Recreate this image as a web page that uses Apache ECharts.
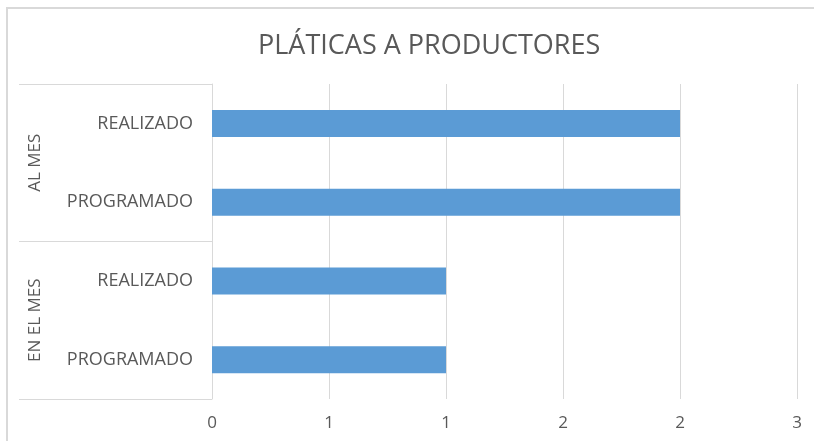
<!DOCTYPE html>
<html>
<head>
<meta charset="utf-8">
<script src="https://cdn.jsdelivr.net/npm/echarts@6/dist/echarts.min.js"></script>
<style>
html,body{margin:0;padding:0;background:#fff;}
#main{width:814px;height:441px;}
</style>
</head>
<body>
<div id="main"></div>
<script>
// Data (bottom to top)
const categories = ['PROGRAMADO', 'REALIZADO', 'PROGRAMADO', 'REALIZADO'];
const groups = ['EN EL MES', 'AL MES'];
const values = [1, 1, 2, 2];
const tickLabels = ['0', '1', '1', '2', '2', '3'];
const titleText = 'PLÁTICAS A PRODUCTORES';

const chart = echarts.init(document.getElementById('main'));
const textColor = '#595959';
const lineColor = '#d9d9d9';
const font = '"Open Sans", "Noto Sans", sans-serif';

chart.setOption({
  animation: false,
  backgroundColor: '#fff',
  title: {
    text: titleText,
    left: 253,
    top: 28,
    textStyle: { color: textColor, fontSize: 27, fontWeight: 'normal', fontFamily: font }
  },
  graphic: [{
    type: 'rect',
    shape: { x: 7, y: 8, width: 900, height: 600 },
    style: { fill: 'none', stroke: lineColor, lineWidth: 2 },
    silent: true
  }],
  grid: { left: 212, right: 17, top: 84, bottom: 42, containLabel: false },
  xAxis: {
    type: 'value',
    min: 0, max: 2.5, interval: 0.5,
    axisLine: { show: false },
    axisTick: { show: false },
    splitLine: { lineStyle: { color: lineColor, width: 1 } },
    axisLabel: {
      color: textColor, fontSize: 17, fontFamily: font, margin: 16,
      formatter: function (v) { return tickLabels[Math.round(v / 0.5)]; }
    }
  },
  yAxis: [{
    type: 'category',
    data: categories,
    axisLine: { show: true, lineStyle: { color: lineColor } },
    axisTick: { show: false },
    axisLabel: { color: textColor, fontSize: 18, fontFamily: font, margin: 19 }
  }, {
    type: 'category',
    data: groups,
    position: 'left',
    axisLine: { show: false },
    axisTick: { show: true, length: 193, lineStyle: { color: lineColor } },
    axisLabel: { color: textColor, fontSize: 17, fontFamily: font, rotate: 90, margin: 168 }
  }],
  series: [{
    type: 'bar',
    yAxisIndex: 0,
    data: values,
    barWidth: 27,
    itemStyle: { color: '#5b9bd5' }
  }]
});
</script>
</body>
</html>
